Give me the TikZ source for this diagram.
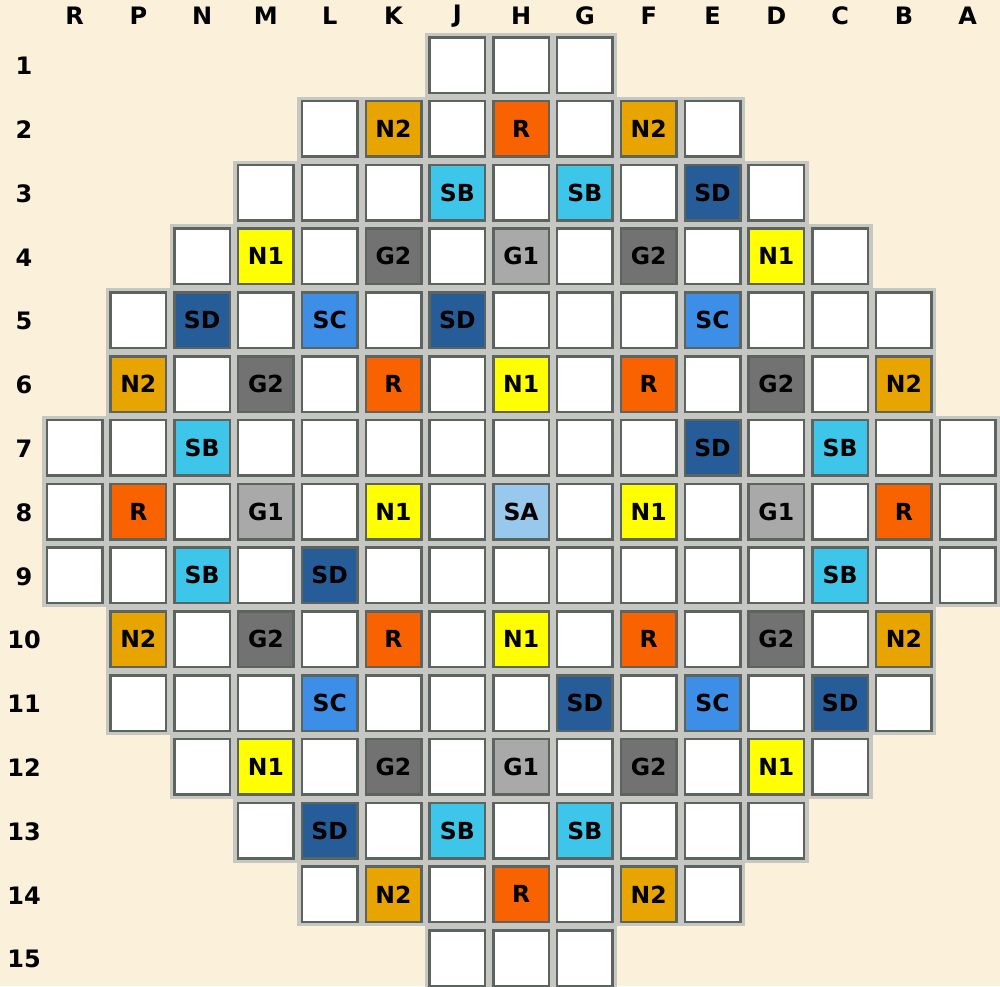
\documentclass[tikz,border=0pt]{standalone}
\usepackage{fontspec}
\setmainfont{DejaVu Sans}
\definecolor{cream}{HTML}{FBF0DA}
\definecolor{gridbg}{HTML}{C6C7C3}
\definecolor{cellborder}{HTML}{5C645F}
\definecolor{cN2}{HTML}{E8A400}
\definecolor{cR}{HTML}{F86200}
\definecolor{cSB}{HTML}{3EC6EA}
\definecolor{cSD}{HTML}{265C98}
\definecolor{cSC}{HTML}{3C8EE6}
\definecolor{cN1}{HTML}{FFFF00}
\definecolor{cG2}{HTML}{727272}
\definecolor{cG1}{HTML}{A9A9A9}
\definecolor{cSA}{HTML}{98C8EC}
\tikzset{
  cell/.style={draw=cellborder, line width=2.5pt, minimum size=55.5pt, inner sep=0pt, outer sep=0pt,
    font=\fontsize{23.5}{25}\selectfont\bfseries, text=black},
  tE/.style={fill=white},
  tN2/.style={fill=cN2},
  tR/.style={fill=cR},
  tSB/.style={fill=cSB},
  tSD/.style={fill=cSD},
  tSC/.style={fill=cSC},
  tN1/.style={fill=cN1},
  tG2/.style={fill=cG2},
  tG1/.style={fill=cG1},
  tSA/.style={fill=cSA},
  hdr/.style={font=\fontsize{24}{26}\selectfont\bfseries, text=black, inner sep=0pt},
  rowbg/.style={fill=gridbg, draw=none}
}
\def\EE{E}
\begin{document}
\begin{tikzpicture}[x=1pt, y=-1pt]
\useasboundingbox (0,0) rectangle (1000,986);
\fill[cream] (0,0) rectangle (1000,986);
% column headers
\foreach \lab [count=\i from 0] in {R,P,N,M,L,K,J,H,G,F,E,D,C,B,A} {
  \node[hdr] (col\i) at ({74.5+63.8*\i},16) {\lab};
}
% row headers
\foreach \r in {1,...,15} {
  \node[hdr] (row\r) at (24,{66+63.8*(\r-1)}) {\r};
}
% data rows
\foreach \r/\s/\lst in {
  1/6/{E,E,E},
  2/4/{E,N2,E,R,E,N2,E},
  3/3/{E,E,E,SB,E,SB,E,SD,E},
  4/2/{E,N1,E,G2,E,G1,E,G2,E,N1,E},
  5/1/{E,SD,E,SC,E,SD,E,E,E,SC,E,E,E},
  6/1/{N2,E,G2,E,R,E,N1,E,R,E,G2,E,N2},
  7/0/{E,E,SB,E,E,E,E,E,E,E,SD,E,SB,E,E},
  8/0/{E,R,E,G1,E,N1,E,SA,E,N1,E,G1,E,R,E},
  9/0/{E,E,SB,E,SD,E,E,E,E,E,E,E,SB,E,E},
  10/1/{N2,E,G2,E,R,E,N1,E,R,E,G2,E,N2},
  11/1/{E,E,E,SC,E,E,E,SD,E,SC,E,SD,E},
  12/2/{E,N1,E,G2,E,G1,E,G2,E,N1,E},
  13/3/{E,SD,E,SB,E,SB,E,E,E},
  14/4/{E,N2,E,R,E,N2,E},
  15/6/{E,E,E}} {
  \pgfmathsetmacro{\yy}{65+63.8*(\r-1)}
  \pgfmathsetmacro{\xa}{74.5+63.8*\s-29-3.5}
  \pgfmathsetmacro{\xb}{74.5+63.8*(14-\s)+29+3.5}
  \fill[rowbg] (\xa,\yy-32) rectangle (\xb,\yy+32);
}
\foreach \r/\s/\lst in {
  1/6/{E,E,E},
  2/4/{E,N2,E,R,E,N2,E},
  3/3/{E,E,E,SB,E,SB,E,SD,E},
  4/2/{E,N1,E,G2,E,G1,E,G2,E,N1,E},
  5/1/{E,SD,E,SC,E,SD,E,E,E,SC,E,E,E},
  6/1/{N2,E,G2,E,R,E,N1,E,R,E,G2,E,N2},
  7/0/{E,E,SB,E,E,E,E,E,E,E,SD,E,SB,E,E},
  8/0/{E,R,E,G1,E,N1,E,SA,E,N1,E,G1,E,R,E},
  9/0/{E,E,SB,E,SD,E,E,E,E,E,E,E,SB,E,E},
  10/1/{N2,E,G2,E,R,E,N1,E,R,E,G2,E,N2},
  11/1/{E,E,E,SC,E,E,E,SD,E,SC,E,SD,E},
  12/2/{E,N1,E,G2,E,G1,E,G2,E,N1,E},
  13/3/{E,SD,E,SB,E,SB,E,E,E},
  14/4/{E,N2,E,R,E,N2,E},
  15/6/{E,E,E}} {
  \pgfmathsetmacro{\yy}{65+63.8*(\r-1)}
  \foreach \ty [count=\i from 0] in \lst {
    \pgfmathsetmacro{\xx}{74.5+63.8*(\s+\i)}
    \edef\tmp{\ty}
    \node[cell, t\ty] (cell-\r-\i) at (\xx,\yy) {\ifx\tmp\EE\else\ty\fi};
  }
}
\end{tikzpicture}
\end{document}
